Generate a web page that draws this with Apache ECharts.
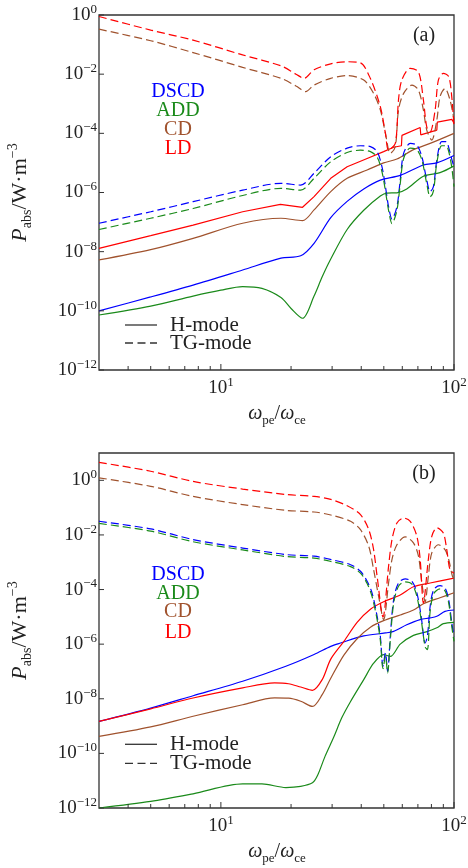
<!DOCTYPE html>
<html>
<head>
<meta charset="utf-8">
<script src="https://cdn.jsdelivr.net/npm/echarts@6/dist/echarts.min.js"></script>
<style>
  html, body { margin: 0; padding: 0; background: #fff; }
  #chart { width: 468px; height: 868px; }
</style>
</head>
<body>
<div id="chart"></div>
<script>
// ---------- axis ranges and tick labels ----------
const X_MIN = 3, X_MAX = 100;
const Y_MIN = 1e-12;
const Y_MAX = [1, 10];                       // panel (a), panel (b)
const yTicks = [1e-12, 1e-10, 1e-8, 1e-6, 1e-4, 1e-2, 1];
const yTickExp = ['−12', '−10', '−8', '−6', '−4', '−2', '0'];
const xMajor = [10, 100];
const xMajorExp = ['1', '2'];
const xMinor = [4, 5, 6, 7, 8, 9, 20, 30, 40, 50, 60, 70, 80, 90];

// ---------- panel (a): absorbed power, [ω_pe/ω_ce, P_abs] ----------
const dscdHA = [[3,1.0e-10],[5,2.95e-10],[7.6,7.41e-10],[12.4,2.40e-9],[18.1,6.03e-9],[22.0,7.24e-9],[25.1,1.91e-8],[29.6,1.41e-7],[34.8,5.01e-7],[41,1.32e-6],[48.3,2.63e-6],[58.8,3.80e-6],[73.9,8.51e-6],[84.4,1.0e-5],[100,1.78e-5]];
const addHA = [[3,7.24e-11],[5,1.45e-10],[7.6,3.16e-10],[10,5.01e-10],[12.4,6.61e-10],[15,5.75e-10],[18.1,2.82e-10],[20,1.20e-10],[22.4,5.62e-11],[25.1,3.16e-10],[27.2,1.41e-9],[29.6,5.62e-9],[34.8,5.62e-8],[41,2.51e-7],[48.3,7.59e-7],[51.6,9.55e-7],[56.9,9.77e-7],[62.7,1.32e-6],[73.9,3.55e-6],[87.1,4.68e-6],[100,7.94e-6]];
const cdHA = [[3,5.25e-9],[5,1.17e-8],[7.6,2.82e-8],[12.4,9.12e-8],[18.1,1.35e-7],[22.4,1.12e-7],[25.1,2.57e-7],[29.6,1.07e-6],[34.8,3.02e-6],[42.4,5.75e-6],[49.9,1.0e-5],[56.9,1.35e-5],[67,2.82e-5],[79,4.57e-5],[100,1.0e-4]];
const ldHA = [[3,1.29e-8],[5,3.47e-8],[7.6,7.94e-8],[12.4,2.24e-7],[18,3.98e-7],[22.4,3.16e-7],[25.1,7.24e-7],[29.6,3.02e-6],[34.8,7.41e-6],[42.4,1.41e-5],[49.9,2.40e-5],[55.1,3.39e-5],[59.5,3.80e-5],[59.8,8.51e-5],[71.6,1.58e-4],[72.0,8.91e-5],[84.4,1.29e-4],[84.8,2.40e-4],[98,2.95e-4],[100,2.19e-4]];

const dscdTA = [[3,9.12e-8],[5,2.24e-7],[7.6,4.90e-7],[12.4,1.20e-6],[18.1,2.04e-6],[22.0,1.78e-6],[25.1,4.47e-6],[29.6,1.62e-5],[34.8,3.16e-5],[39.7,3.80e-5],[43.8,3.55e-5],[46.8,2.40e-5],[49.1,7.41e-6],[50.8,1.58e-6],[52.4,3.31e-7],[54.2,1.26e-7],[56.9,3.31e-7],[58.8,2.63e-6],[60.8,2.09e-5],[64.9,4.57e-5],[69.3,3.98e-5],[72.8,1.62e-5],[76.4,2.63e-6],[79,1.07e-6],[81.6,1.58e-6],[84.4,1.26e-5],[88.5,5.25e-5],[92.5,5.25e-5],[95.5,2.75e-5],[98,1.26e-5],[100,7.41e-6]];
const addTA = [[3,5.62e-8],[5,1.35e-7],[7.6,2.88e-7],[12.4,7.94e-7],[18.1,1.38e-6],[22.0,1.20e-6],[25.1,3.02e-6],[29.6,1.10e-5],[34.8,2.24e-5],[39.7,2.69e-5],[43.8,2.40e-5],[46.8,1.58e-5],[49.1,5.01e-6],[50.8,1.12e-6],[52.4,2.51e-7],[54.2,8.91e-8],[56.9,2.51e-7],[58.8,2.0e-6],[60.8,1.41e-5],[64.9,3.16e-5],[69.3,2.82e-5],[72.8,1.26e-5],[76.4,2.0e-6],[79,7.08e-7],[81.6,1.12e-6],[84.4,1.0e-5],[88.5,3.80e-5],[92.5,3.80e-5],[95.5,2.0e-5],[98,6.31e-6],[100,1.58e-6]];
const cdTA = [[3,0.331],[5,0.135],[7.6,0.0537],[12.4,0.0170],[18.1,7.24e-3],[21,3.98e-3],[23.1,2.57e-3],[25.1,4.27e-3],[29.6,7.24e-3],[34.8,8.91e-3],[41,6.31e-3],[45.2,2.24e-3],[48.3,6.17e-4],[50.8,1.0e-4],[53.3,2.09e-5],[56.0,3.55e-5],[57.8,6.17e-4],[60.8,2.24e-3],[66,4.27e-3],[70.4,2.88e-3],[73.9,6.17e-4],[76.4,1.29e-4],[80.3,5.89e-5],[84.4,2.82e-4],[87.1,1.74e-3],[91.5,3.31e-3],[96.1,1.35e-3],[100,2.82e-4]];
const ldTA = [[3,0.891],[5,0.309],[7.6,0.141],[12.4,0.0447],[18.1,0.0191],[21,0.0100],[22.75,7.24e-3],[25.1,0.0141],[29.6,0.0224],[34.8,0.0263],[39.7,0.0240],[43.8,7.08e-3],[48.3,7.94e-4],[50.8,1.0e-4],[52.4,2.75e-5],[56.0,4.57e-5],[57.8,1.35e-3],[59.7,6.31e-3],[64.9,0.0158],[70.4,0.0120],[73.9,1.35e-3],[76.4,1.66e-4],[79,1.12e-4],[83.0,6.17e-4],[85.7,6.31e-3],[90,0.0107],[94.9,8.32e-3],[97.8,1.74e-3],[100,1.66e-4]];

// ---------- panel (b) ----------
const dscdHB = [[3,1.48e-9],[5,4.57e-9],[7.6,1.29e-8],[12.4,4.37e-8],[19,1.55e-7],[25.1,4.17e-7],[29.6,8.32e-7],[32.6,1.10e-6],[41,2.0e-6],[50.8,2.57e-6],[55.1,2.95e-6],[62.7,5.13e-6],[71.6,7.94e-6],[79,9.12e-6],[84.4,1.05e-5],[91.5,1.58e-5],[100,1.78e-5]];
const addHB = [[3,1.0e-12],[5,1.74e-12],[7.6,3.31e-12],[12.4,7.59e-12],[15,7.59e-12],[19,5.62e-12],[22,6.17e-12],[24.7,8.32e-12],[26,1.58e-11],[28,7.94e-11],[30.5,3.98e-10],[33,2.0e-9],[36,7.94e-9],[41,5.01e-8],[45.2,2.0e-7],[49.9,4.17e-7],[53.3,3.55e-7],[58.8,1.0e-6],[67,2.09e-6],[76,2.82e-6],[84.4,3.98e-6],[90,5.62e-6],[100,6.31e-6]];
const cdHB = [[3,4.17e-10],[5,9.33e-10],[7.6,2.29e-9],[12.4,6.03e-9],[17,1.07e-8],[19.5,1.05e-8],[22,8.13e-9],[24.7,5.25e-9],[27.2,1.41e-8],[29.6,5.62e-8],[33.7,3.98e-7],[38.4,1.58e-6],[43.8,4.17e-6],[49.9,7.24e-6],[58.8,1.17e-5],[67,1.78e-5],[73.9,3.02e-5],[87.1,5.01e-5],[100,7.59e-5]];
const ldHB = [[3,1.48e-9],[5,4.27e-9],[7.6,1.07e-8],[12.4,2.51e-8],[17,3.80e-8],[19.5,3.55e-8],[22,2.69e-8],[24.7,2.04e-8],[27.2,5.01e-8],[29.6,2.82e-7],[33.7,1.26e-6],[38.4,6.31e-6],[43.8,1.91e-5],[49.9,3.55e-5],[58.8,6.31e-5],[67,1.26e-4],[79,1.74e-4],[100,2.63e-4]];

const dscdTB = [[3,0.0316],[5,0.0166],[7.6,6.76e-3],[12.4,3.31e-3],[19,1.91e-3],[25.1,1.66e-3],[29.6,1.26e-3],[36,8.13e-4],[39.7,4.68e-4],[42.4,2.0e-4],[44.5,7.59e-5],[46.8,1.05e-5],[48.3,1.95e-6],[49.6,1.55e-7],[50.8,4.79e-7],[51.9,1.0e-7],[53.3,1.95e-6],[55.1,4.27e-5],[57.8,1.74e-4],[61.7,2.45e-4],[66,2.0e-4],[69.3,7.59e-5],[72.3,1.05e-5],[75.2,1.10e-6],[76.9,1.95e-6],[79,2.40e-5],[81.9,1.0e-4],[87.1,1.38e-4],[91.5,1.15e-4],[94.9,4.27e-5],[97.8,6.03e-6],[100,1.95e-6]];
const addTB = [[3,0.0263],[5,0.0138],[7.6,5.62e-3],[12.4,2.82e-3],[19,1.62e-3],[25.1,1.41e-3],[29.6,1.07e-3],[36,6.92e-4],[39.7,3.98e-4],[42.4,1.66e-4],[44.5,5.62e-5],[46.8,7.94e-6],[48.3,1.41e-6],[49.6,1.26e-7],[50.8,3.55e-7],[51.9,8.91e-8],[53.3,1.41e-6],[55.1,3.16e-5],[57.8,1.32e-4],[61.7,1.91e-4],[66,1.58e-4],[69.3,5.62e-5],[72.3,7.94e-6],[75.2,7.94e-7],[76.9,6.31e-7],[79,1.58e-5],[81.9,7.08e-5],[87.1,1.05e-4],[91.5,8.91e-5],[94.9,3.16e-5],[97.8,4.47e-6],[100,1.26e-6]];
const cdTB = [[3,1.23],[5,0.603],[7.6,0.257],[12.4,0.129],[19,0.0794],[25.1,0.0692],[29.6,0.0537],[36,0.0316],[39.7,0.0155],[43.1,3.80e-3],[45.2,5.37e-4],[47.5,5.62e-5],[49.9,7.94e-6],[52.4,1.74e-4],[54.2,1.26e-3],[56.9,4.37e-3],[61.7,8.51e-3],[67,5.13e-3],[70.4,1.66e-3],[72.8,1.74e-4],[75.2,3.55e-5],[77.6,3.02e-4],[80.3,2.19e-3],[85.7,4.37e-3],[91.5,2.88e-3],[94.9,1.26e-3],[98.5,3.02e-4],[100,2.51e-4]];
const ldTB = [[3,4.57],[5,2.14],[7.6,0.912],[12.4,0.479],[19,0.302],[25.1,0.257],[29.6,0.200],[34.8,0.117],[39.7,0.0550],[43.1,0.0155],[45.2,2.88e-3],[46.8,3.02e-4],[49.6,1.0e-5],[52.4,7.08e-4],[54.2,6.76e-3],[56.9,0.0275],[60.8,0.0417],[64.9,0.0316],[69.3,8.91e-3],[71.6,1.26e-3],[73.9,3.16e-5],[77.6,1.26e-3],[80.3,8.91e-3],[84.4,0.0182],[90,0.0117],[93.1,2.88e-3],[96.1,5.37e-4],[100,3.98e-4]];

// ---------- styling ----------
const SERIF = '"Liberation Serif", "DejaVu Serif", serif';
const INK = '#222';
const C = { DSCD: '#0000ff', ADD: '#1a8a1a', CD: '#a0522d', LD: '#ff0000' };
const DASH = [8, 4];

const RICH_TICK = {
  b: { fontFamily: SERIF, fontSize: 19, lineHeight: 24, verticalAlign: 'middle', fill: INK },
  s: { fontFamily: SERIF, fontSize: 13, lineHeight: 14, verticalAlign: 'top', fill: INK }
};

function lineSeries(data, color, dashed, g, smooth) {
  return {
    type: 'line', xAxisIndex: g, yAxisIndex: g, data,
    showSymbol: false, symbol: 'none', silent: true, z: dashed ? 3 : 2,
    smooth: smooth === undefined ? 0.3 : smooth,
    lineStyle: { color, width: 1.2, type: dashed ? DASH : 'solid' }
  };
}

// y ticks + labels at the left edge of a panel
function yTickSeries(g) {
  return {
    type: 'custom', xAxisIndex: g, yAxisIndex: g, clip: false, silent: true, z: 10,
    data: yTicks.map(v => [X_MIN, v]),
    renderItem(params, api) {
      const i = params.dataIndex;
      const p = api.coord([X_MIN, yTicks[i]]);
      return { type: 'group', children: [
        { type: 'line', shape: { x1: p[0], y1: p[1], x2: p[0] + 5, y2: p[1] },
          style: { stroke: '#333', lineWidth: 1 } },
        { type: 'text', x: p[0] - 2, y: p[1],
          style: { text: '{b|10}{s|' + yTickExp[i] + '}', rich: RICH_TICK,
                   align: 'right', verticalAlign: 'middle' } }
      ] };
    }
  };
}

// x ticks (major with labels, minor without) along the bottom edge
function xTickSeries(g) {
  const all = xMajor.concat(xMinor);
  return {
    type: 'custom', xAxisIndex: g, yAxisIndex: g, clip: false, silent: true, z: 10,
    data: all.map(v => [v, Y_MIN]),
    renderItem(params, api) {
      const i = params.dataIndex;
      const major = i < xMajor.length;
      const p = api.coord([all[i], Y_MIN]);
      const kids = [
        { type: 'line', shape: { x1: p[0], y1: p[1], x2: p[0], y2: p[1] - (major ? 6 : 4) },
          style: { stroke: '#333', lineWidth: 1 } }
      ];
      if (major) {
        kids.push({ type: 'text', x: p[0], y: p[1] + 18,
          style: { text: '{b|10}{s|' + xMajorExp[i] + '}', rich: RICH_TICK,
                   align: 'center', verticalAlign: 'middle' } });
      }
      return { type: 'group', children: kids };
    }
  };
}

const grids = [
  { left: 99, top: 15, width: 355, height: 355 },
  { left: 99, top: 453, width: 355, height: 355 }
];

function axisX(g) {
  return { type: 'log', logBase: 10, gridIndex: g, min: X_MIN, max: X_MAX,
    axisLine: { show: false }, axisTick: { show: false }, axisLabel: { show: false },
    splitLine: { show: false } };
}
function axisY(g) {
  return { type: 'log', logBase: 10, gridIndex: g, min: Y_MIN, max: Y_MAX[g],
    axisLine: { show: false }, axisTick: { show: false }, axisLabel: { show: false },
    splitLine: { show: false } };
}

const series = [
  lineSeries(dscdHA, C.DSCD, false, 0), lineSeries(addHA, C.ADD, false, 0),
  lineSeries(cdHA, C.CD, false, 0),     lineSeries(ldHA, C.LD, false, 0, false),
  lineSeries(dscdTA, C.DSCD, true, 0),  lineSeries(addTA, C.ADD, true, 0),
  lineSeries(cdTA, C.CD, true, 0),      lineSeries(ldTA, C.LD, true, 0),
  lineSeries(dscdHB, C.DSCD, false, 1), lineSeries(addHB, C.ADD, false, 1),
  lineSeries(cdHB, C.CD, false, 1),     lineSeries(ldHB, C.LD, false, 1),
  lineSeries(dscdTB, C.DSCD, true, 1),  lineSeries(addTB, C.ADD, true, 1),
  lineSeries(cdTB, C.CD, true, 1),      lineSeries(ldTB, C.LD, true, 1),
  yTickSeries(0), xTickSeries(0), yTickSeries(1), xTickSeries(1)
];

// ---------- text decorations ----------
const RICH_YT = {
  i: { fontFamily: SERIF, fontStyle: 'italic', fontSize: 22, lineHeight: 28, verticalAlign: 'middle', fill: INK },
  n: { fontFamily: SERIF, fontSize: 22, lineHeight: 28, verticalAlign: 'middle', fill: INK },
  sb: { fontFamily: SERIF, fontSize: 14, lineHeight: 14, verticalAlign: 'bottom', fill: INK },
  sp: { fontFamily: SERIF, fontSize: 14, lineHeight: 14, verticalAlign: 'top', fill: INK }
};
const RICH_XT = {
  i: { fontFamily: SERIF, fontStyle: 'italic', fontSize: 20, lineHeight: 26, verticalAlign: 'middle', fill: INK },
  n: { fontFamily: SERIF, fontSize: 20, lineHeight: 26, verticalAlign: 'middle', fill: INK },
  sb: { fontFamily: SERIF, fontSize: 13, lineHeight: 13, verticalAlign: 'bottom', fill: INK }
};

function txt(x, y, text, color, size, align) {
  return { type: 'text', x, y, silent: true,
    style: { text, fill: color, font: size + 'px ' + SERIF, align: align || 'center', verticalAlign: 'middle' } };
}

// labelY: centres of DSCD/ADD/CD/LD; modeY: centres of the H-mode / TG-mode rows
function panelDecor(top, bottom, tag, labelY, modeY) {
  const names = ['DSCD', 'ADD', 'CD', 'LD'];
  const out = names.map((n, i) => txt(178, labelY[i], n, C[n], 20));
  out.push(
    txt(424, top + 21, tag, INK, 20),
    { type: 'line', silent: true, shape: { x1: 125, y1: modeY[0], x2: 157, y2: modeY[0] },
      style: { stroke: '#333', lineWidth: 1.3 } },
    { type: 'line', silent: true, shape: { x1: 125, y1: modeY[1], x2: 157, y2: modeY[1] },
      style: { stroke: '#333', lineWidth: 1.3, lineDash: [8, 4.5] } },
    txt(170, modeY[0], 'H-mode', INK, 21, 'left'),
    txt(170, modeY[1], 'TG-mode', INK, 21, 'left'),
    { type: 'text', x: 20, y: (top + bottom) / 2, rotation: Math.PI / 2, silent: true,
      style: { text: '{i|P}{sb|abs}{n|/W·m}{sp|−3}', rich: RICH_YT, align: 'center', verticalAlign: 'middle' } },
    { type: 'text', x: 277, y: bottom + 44, silent: true,
      style: { text: '{i|ω}{sb|pe}{n|/}{i|ω}{sb|ce}', rich: RICH_XT, align: 'center', verticalAlign: 'middle' } }
  );
  return out;
}

const chart = echarts.init(document.getElementById('chart'), null, { renderer: 'canvas' });
chart.setOption({
  backgroundColor: '#fff',
  animation: false,
  grid: grids.map(g => Object.assign({ show: true, borderColor: '#333', borderWidth: 1.3,
                                        backgroundColor: 'transparent' }, g)),
  xAxis: [axisX(0), axisX(1)],
  yAxis: [axisY(0), axisY(1)],
  series,
  graphic: panelDecor(15, 370, '(a)', [91.7, 110.5, 129.7, 148.3], [325, 343])
    .concat(panelDecor(453, 808, '(b)', [575, 593.3, 612, 632.5], [744.3, 763.3]))
});
</script>
</body>
</html>
